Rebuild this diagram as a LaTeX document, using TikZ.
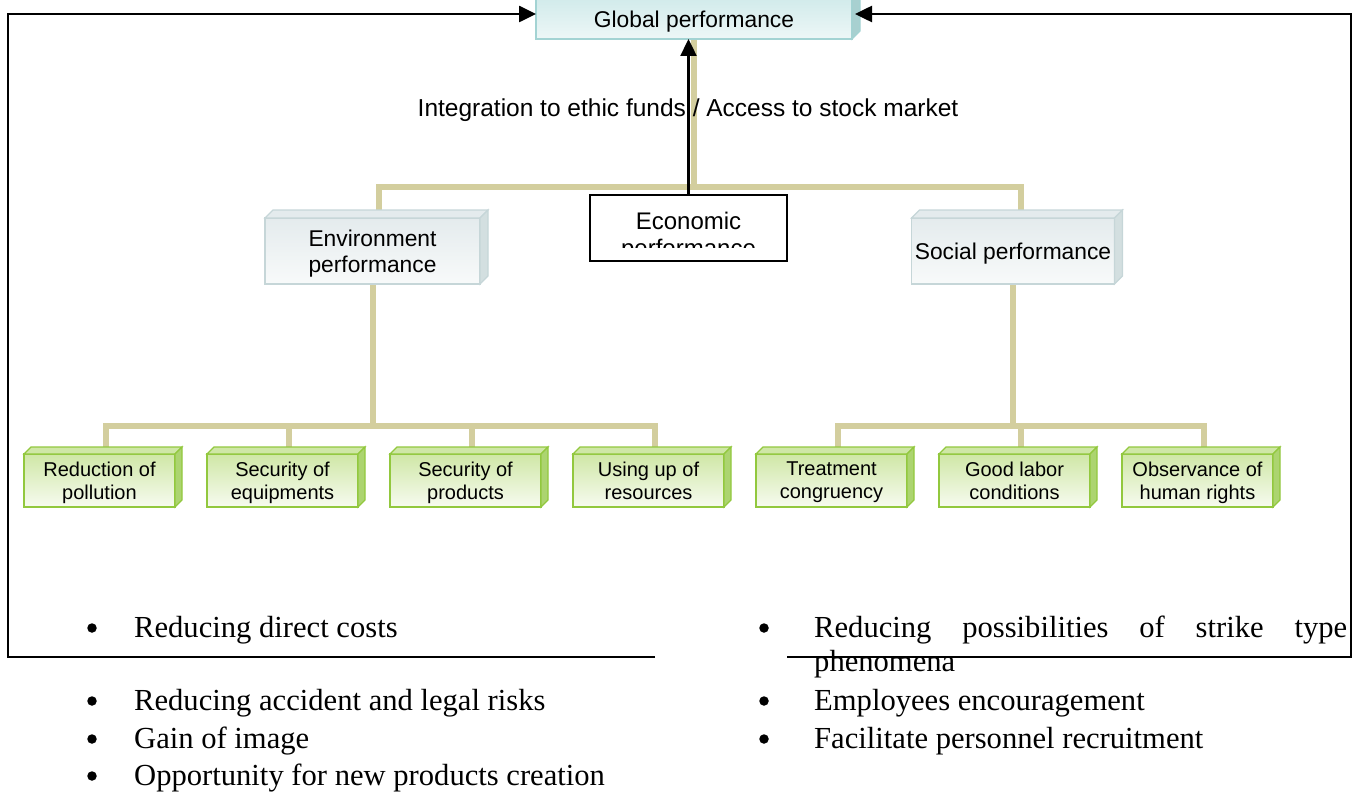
\documentclass[tikz,border=0pt]{standalone}
\usepackage{fontspec}
\setmainfont{Liberation Serif}
\newfontfamily\arial{Liberation Sans}
\usetikzlibrary{arrows.meta}
\usetikzlibrary{backgrounds}

\definecolor{stemtan}{HTML}{D3CE9E}
\definecolor{tealedge}{HTML}{A3D3D3}
\definecolor{tealtop}{HTML}{D2EBEB}
\definecolor{tealbot}{HTML}{EDF7F7}
\definecolor{tealside}{HTML}{A8D0D0}
\definecolor{greyedge}{HTML}{C6D6D8}
\definecolor{greytop}{HTML}{E4EBED}
\definecolor{greybot}{HTML}{F8FAFA}
\definecolor{greyside}{HTML}{D3DFE0}
\definecolor{leafedge}{HTML}{92C83E}
\definecolor{leaftop}{HTML}{CFE7A6}
\definecolor{leafbot}{HTML}{F7FBF0}
\definecolor{leafside}{HTML}{ACD470}

% top and right faces of a box node: name, depth, edge, top face, side face
\newcommand{\boxfaces}[5]{%
  \filldraw[draw=#3, fill=#4, line width=1.2pt] (#1.north west) -- ++(#2,-#2)
    -- ([shift={(#2,-#2)}]#1.north east) -- (#1.north east) -- cycle;
  \filldraw[draw=#3, fill=#5, line width=1.2pt] (#1.north east) -- ++(#2,-#2)
    -- ([shift={(#2,-#2)}]#1.south east) -- (#1.south east) -- cycle;
}

\begin{document}
\begin{tikzpicture}[x=1pt, y=-1pt]
	\tikzstyle{stem}=[line width=6pt, stemtan]
	\tikzstyle{frame}=[line width=2.6pt, black]
	\tikzstyle{tip}=[-{Triangle[length=17pt, width=16pt]}]
	\tikzstyle{perf}=[draw=greyedge, line width=1.2pt, top color=greytop, bottom color=greybot,
	                  outer sep=0pt, align=center, text depth=0pt,
	                  font=\arial\fontsize{22.8}{26}\selectfont]
	\tikzstyle{leaf}=[draw=leafedge, line width=1.6pt, top color=leaftop, bottom color=leafbot,
	                  minimum width=151pt, minimum height=53pt, outer sep=0pt, text depth=0pt,
	                  align=center, font=\arial\fontsize{20}{23}\selectfont]
	\tikzstyle{listtext}=[anchor=base west, inner sep=0pt, font=\fontsize{30.6}{34}\selectfont]
	\tikzstyle{listdot}=[circle, fill=black, inner sep=0pt, minimum size=9.5pt]
	\useasboundingbox (0,0) rectangle (1359,792);

	% performance boxes
	\node[perf, draw=tealedge, top color=tealtop, bottom color=tealbot,
	      minimum width=316pt, minimum height=40pt] (global) at (694,19) {Global performance};
	\node[perf, minimum width=215pt, minimum height=66pt] (env) at (372.5,251) {Environment\\performance};
	\node[perf, minimum width=202pt, minimum height=66pt] (soc) at (1013,251) {Social performance};
	\boxfaces{global}{8}{tealedge}{tealtop}{tealside}
	\boxfaces{env}{8}{greyedge}{greytop}{greyside}
	\boxfaces{soc}{8}{greyedge}{greytop}{greyside}

	% leaves
	\foreach \name/\txt [count=\i from 0] in {pol/Reduction of\\pollution, equ/Security of\\equipments,
	    pro/Security of\\products, res/Using up of\\resources, tre/Treatment\\congruency,
	    lab/Good labor\\conditions, hum/Observance of\\human rights}
	{\node[leaf] (\name) at (99.5+183*\i, 480.5) {\txt};
	 \boxfaces{\name}{7}{leafedge}{leaftop}{leafside}}

	% tree stems
	\coordinate (barline) at (0,187);
	\begin{scope}[on background layer]
	\draw[stem] (global.south) -- (global.south |- barline) coordinate (hub);
	\draw[stem] ([xshift=6pt]env.north) |- (hub) -| ([xshift=8pt]soc.north);
	\draw[stem] (env.south) -- ++(0,142) coordinate (envbus);
	\foreach \n in {pol,equ,pro,res}
	{\draw[stem] ([xshift=6pt]\n.north) |- (envbus);}
	\draw[stem] (soc.south) -- ++(0,142) coordinate (socbus);
	\foreach \n in {tre,lab,hum}
	{\draw[stem] ([xshift=6pt]\n.north) |- (socbus);}
	\end{scope}

	% economic box, second line cut by the box
	\node[draw, line width=1.8pt, fill=white, minimum width=197pt, minimum height=66pt,
	      outer sep=0pt] (eco) at (688.5,228) {};
	\begin{scope}
	\clip (eco.north west) rectangle ([yshift=14pt]eco.south east);
	\node[align=center, font=\arial\fontsize{24}{27}\selectfont] (ecotext) at (688.5,236.5)
	      {Economic\\performance};
	\end{scope}
	\node[font=\arial\fontsize{24.5}{27}\selectfont] (funds) at (688,110)
	      {Integration to ethic funds / Access to stock market};
	\draw[line width=2.4pt, tip] (eco.north) -- (eco.north |- global.south);

	% outer frame
	\coordinate (cutL) at (655,657);
	\coordinate (cutR) at (787,657);
	\coordinate (cnrL) at (8,14);
	\coordinate (cnrR) at (1351,14);

	% benefit lists
	\foreach \y/\txt [count=\k] in {637/Reducing direct costs, 710/Reducing accident and legal risks,
	    748/Gain of image, 785/Opportunity for new products creation}
	{\node[listdot] (ld\k) at (92,\y-9) {};
	 \node[listtext] (lt\k) at (134,\y) {\txt};}
	\node[listdot] (rd1) at (764,628) {};
	\node[listtext] (rt1) at (814,637) {\makebox[533pt][s]{Reducing possibilities of strike type}};
	\node[listtext] (rt1b) at (814,671) {phenomena};
	\foreach \y/\txt [count=\k from 2] in {710/Employees encouragement, 748/Facilitate personnel recruitment}
	{\node[listdot] (rd\k) at (764,\y-9) {};
	 \node[listtext] (rt\k) at (814,\y) {\txt};}

	\draw[frame, tip] (cutL) -| (cnrL) -- ([yshift=5pt]global.west);
	\draw[frame, tip] (cutR) -| (cnrR) -- ([yshift=5pt, xshift=3pt]global.east);
\end{tikzpicture}
\end{document}
